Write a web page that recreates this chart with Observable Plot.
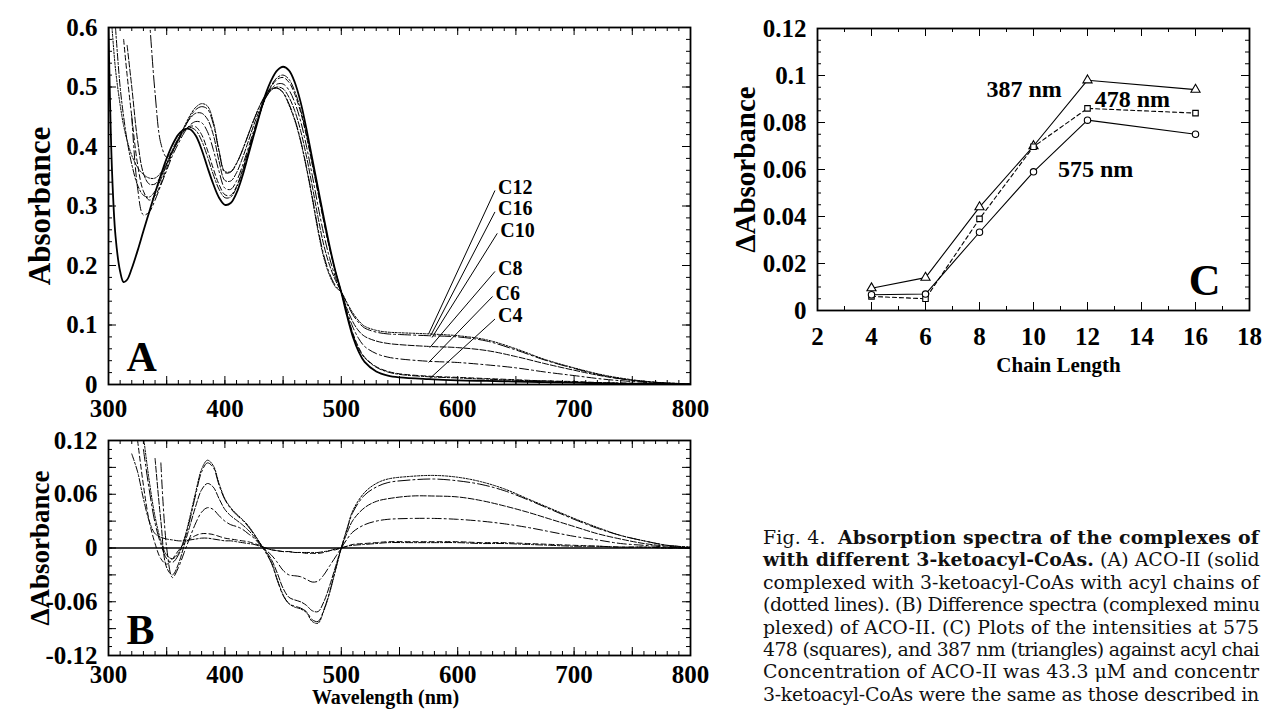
<!DOCTYPE html>
<html><head><meta charset="utf-8">
<script src="https://cdn.jsdelivr.net/npm/d3@7"></script>
<script src="https://cdn.jsdelivr.net/npm/@observablehq/plot@0.6"></script>
<style>
html,body{margin:0;padding:0;background:#fff;overflow:hidden}
#root{position:relative;width:1264px;height:710px;overflow:hidden;background:#fff}
.panel{position:absolute}
#caption{position:absolute;left:763px;top:526px;white-space:pre;font-family:"DejaVu Serif",serif;color:#111;line-height:22.4px}
#caption b{font-weight:bold}
</style></head>
<body><div id="root"><div id="caption"></div></div>
<script>
// ---------------- DATA ----------------
const seriesNames = ["C4","C6","C8","C10","C12","C16"];

// Panel A: absorbance spectra
const wavelengthA = [300,303,306,310,313,316,320,325,330,335,340,345,350,355,360,365,370,375,380,385,390,395,400,405,410,415,420,425,430,435,440,445,450,455,460,465,470,475,480,485,490,495,500,505,510,515,520,530,540,550,575,600,625,650,675,700,725,750,775,800];
const freeA = [0.60,0.36,0.25,0.19,0.172,0.176,0.195,0.225,0.258,0.29,0.322,0.352,0.38,0.403,0.42,0.429,0.429,0.418,0.395,0.365,0.337,0.314,0.302,0.305,0.322,0.35,0.385,0.42,0.455,0.488,0.512,0.528,0.534,0.528,0.508,0.475,0.43,0.38,0.33,0.28,0.232,0.19,0.155,0.115,0.08,0.055,0.038,0.022,0.015,0.012,0.009,0.007,0.006,0.005,0.004,0.003,0.002,0.001,0.001,0];
const c4A = [null,null,0.60,0.50,0.45,0.41,0.37,0.335,0.318,0.315,0.325,0.345,0.37,0.395,0.414,0.427,0.432,0.427,0.41,0.383,0.353,0.328,0.314,0.315,0.331,0.358,0.39,0.423,0.455,0.483,0.503,0.516,0.52,0.513,0.493,0.462,0.421,0.373,0.324,0.275,0.229,0.19,0.155,0.117,0.084,0.06,0.045,0.029,0.021,0.017,0.013,0.011,0.009,0.007,0.006,0.004,0.003,0.002,0.001,0];
const c6A = [null,null,null,null,0.58,0.52,0.45,0.37,0.325,0.31,0.317,0.338,0.364,0.39,0.41,0.426,0.434,0.433,0.42,0.394,0.363,0.336,0.319,0.318,0.333,0.36,0.392,0.424,0.455,0.482,0.501,0.513,0.516,0.508,0.488,0.458,0.418,0.37,0.322,0.273,0.228,0.189,0.155,0.118,0.086,0.062,0.046,0.03,0.022,0.018,0.014,0.012,0.01,0.008,0.006,0.005,0.003,0.002,0.001,0];
const c8A = [null,null,null,null,null,null,0.45,0.33,0.285,0.29,0.31,0.335,0.36,0.385,0.405,0.423,0.436,0.442,0.44,0.425,0.395,0.358,0.33,0.328,0.342,0.367,0.397,0.428,0.457,0.481,0.497,0.505,0.505,0.495,0.474,0.443,0.401,0.352,0.3,0.252,0.212,0.18,0.155,0.122,0.096,0.077,0.064,0.052,0.046,0.043,0.039,0.037,0.033,0.028,0.021,0.015,0.009,0.005,0.002,0];
const c10A = [null,null,null,null,null,0.57,0.5,0.41,0.355,0.337,0.337,0.35,0.37,0.392,0.413,0.432,0.447,0.456,0.456,0.446,0.42,0.375,0.343,0.342,0.356,0.38,0.408,0.437,0.462,0.482,0.495,0.5,0.497,0.483,0.46,0.427,0.384,0.334,0.281,0.234,0.2,0.175,0.155,0.127,0.105,0.09,0.081,0.073,0.069,0.067,0.064,0.062,0.057,0.047,0.035,0.024,0.014,0.007,0.003,0.001];
const c12A = [null,0.60,0.53,0.47,0.435,0.41,0.385,0.365,0.353,0.347,0.347,0.356,0.372,0.392,0.412,0.433,0.452,0.466,0.472,0.468,0.442,0.393,0.358,0.358,0.372,0.394,0.42,0.446,0.469,0.487,0.497,0.498,0.49,0.47,0.444,0.409,0.364,0.313,0.258,0.213,0.183,0.164,0.155,0.137,0.12,0.107,0.098,0.091,0.088,0.087,0.085,0.082,0.075,0.06,0.042,0.028,0.016,0.008,0.003,0.001];
const c16A = [null,null,null,null,null,null,null,null,null,0.62,0.49,0.405,0.382,0.393,0.41,0.43,0.449,0.462,0.467,0.463,0.438,0.391,0.356,0.357,0.371,0.393,0.419,0.445,0.468,0.486,0.496,0.498,0.491,0.472,0.446,0.411,0.366,0.316,0.262,0.217,0.186,0.166,0.155,0.135,0.117,0.104,0.095,0.088,0.085,0.084,0.082,0.08,0.073,0.058,0.041,0.027,0.015,0.007,0.003,0.001];

// Panel B: difference spectra
const wavelengthB = [320,325,330,335,340,345,350,355,360,365,370,375,380,385,390,395,400,405,410,415,420,425,430,435,440,445,450,455,460,465,470,475,480,485,490,495,500,505,510,520,530,540,560,580,600,620,640,660,680,700,720,740,760,780,800];
const c4B = [0.105,0.085,0.055,0.03,0.016,0.012,0.01,0.009,0.008,0.008,0.009,0.01,0.011,0.011,0.01,0.009,0.008,0.008,0.007,0.006,0.005,0.004,0.002,0,-0.002,-0.003,-0.004,-0.004,-0.005,-0.005,-0.005,-0.005,-0.005,-0.004,-0.003,-0.001,0,0.002,0.003,0.004,0.005,0.006,0.006,0.006,0.006,0.005,0.005,0.004,0.003,0.002,0.002,0.001,0.001,0,0];
const c6B = [null,0.12,0.07,0.03,0.005,-0.012,-0.018,-0.012,-0.003,0.005,0.01,0.014,0.016,0.016,0.015,0.013,0.011,0.01,0.009,0.008,0.007,0.005,0.003,0,-0.002,-0.003,-0.004,-0.004,-0.005,-0.005,-0.006,-0.006,-0.006,-0.005,-0.003,-0.002,0,0.002,0.004,0.005,0.006,0.007,0.007,0.007,0.007,0.006,0.006,0.005,0.004,0.003,0.002,0.001,0.001,0,0];
const c8B = [null,null,null,null,null,0.095,0.0,-0.033,-0.022,-0.005,0.012,0.028,0.04,0.045,0.043,0.036,0.03,0.026,0.024,0.021,0.016,0.011,0.004,-0.002,-0.008,-0.016,-0.025,-0.03,-0.031,-0.032,-0.035,-0.038,-0.037,-0.03,-0.02,-0.01,0,0.01,0.018,0.026,0.03,0.032,0.033,0.033,0.032,0.03,0.027,0.023,0.018,0.013,0.009,0.005,0.003,0.001,0];
const c10B = [null,null,null,null,0.10,0.03,-0.022,-0.03,-0.018,0.003,0.025,0.047,0.065,0.072,0.068,0.055,0.043,0.036,0.031,0.026,0.02,0.013,0.005,-0.003,-0.013,-0.028,-0.045,-0.055,-0.058,-0.06,-0.064,-0.07,-0.071,-0.06,-0.042,-0.021,0,0.017,0.031,0.045,0.052,0.055,0.058,0.058,0.057,0.053,0.047,0.04,0.032,0.024,0.016,0.01,0.005,0.002,0];
const c12B = [null,null,0.125,0.075,0.035,0.008,-0.008,-0.012,-0.006,0.01,0.035,0.063,0.088,0.098,0.092,0.072,0.055,0.045,0.038,0.032,0.025,0.016,0.006,-0.004,-0.016,-0.035,-0.052,-0.062,-0.066,-0.068,-0.072,-0.082,-0.084,-0.07,-0.05,-0.025,0,0.022,0.042,0.062,0.072,0.077,0.08,0.081,0.079,0.074,0.066,0.055,0.044,0.033,0.023,0.014,0.008,0.003,0.001];
const c16B = [null,null,0.11,0.065,0.028,0.004,-0.012,-0.016,-0.008,0.008,0.032,0.06,0.085,0.095,0.09,0.07,0.054,0.044,0.037,0.031,0.024,0.015,0.005,-0.005,-0.017,-0.036,-0.053,-0.062,-0.065,-0.067,-0.071,-0.08,-0.082,-0.069,-0.049,-0.024,0,0.021,0.04,0.059,0.068,0.073,0.076,0.077,0.075,0.071,0.064,0.054,0.043,0.032,0.022,0.014,0.008,0.003,0.001];

// Panel C: intensities vs chain length
const chainLength = [4,6,8,10,12,16];
const int387 = [0.0095,0.014,0.044,0.070,0.098,0.094];
const int478 = [0.006,0.005,0.039,0.0697,0.086,0.084];
const int575 = [0.0067,0.007,0.0333,0.059,0.081,0.075];

// Tick labels
const xTicksAB = [300,400,500,600,700,800];
const yTicksA = [0,0.1,0.2,0.3,0.4,0.5,0.6];
const yTicksB = [-0.12,-0.06,0,0.06,0.12];
const xTicksC = [2,4,6,8,10,12,14,16,18];
const yTicksC = [0,0.02,0.04,0.06,0.08,0.1,0.12];

// Curve labels in panel A (label, point on curve, label position)
const curveLabels = [
  {label:"C12", w1:575, a1:0.085, w2:632, a2:0.326},
  {label:"C16", w1:577, a1:0.083, w2:632, a2:0.290},
  {label:"C10", w1:578, a1:0.079, w2:634, a2:0.254},
  {label:"C8",  w1:576, a1:0.062, w2:632, a2:0.190},
  {label:"C6",  w1:575, a1:0.037, w2:630, a2:0.148},
  {label:"C4",  w1:576, a1:0.010, w2:632, a2:0.110}
];
const labelsC = [
  {text:"387 nm", x:9.65, y:0.094},
  {text:"478 nm", x:13.66, y:0.090},
  {text:"575 nm", x:12.3, y:0.060}
];

// Caption lines as visible in the (right-clipped) original
const captionLines = [
  [["Fig. 4.  ",false],["Absorption spectra of the complexes of",true]],
  [["with different 3-ketoacyl-CoAs.",true],[" (A) ACO-II (solid",false]],
  [["complexed with 3-ketoacyl-CoAs with acyl chains of",false]],
  [["(dotted lines). (B) Difference spectra (complexed minu",false]],
  [["plexed) of ACO-II. (C) Plots of the intensities at 575",false]],
  [["478 (squares), and 387 nm (triangles) against acyl chai",false]],
  [["Concentration of ACO-II was 43.3 μM and concentr",false]],
  [["3-ketoacyl-CoAs were the same as those described in",false]]
];

// ---------------- HELPERS ----------------
const FONT = "'Liberation Serif','Times New Roman',serif";
const dashes = {C4:"7,2,2,2", C6:"5,3", C8:"9,3,2,3", C10:"6,2", C12:"2,1.5", C16:"12,3,2,3"};

function longForm(grid, arr, name) {
  const out = [];
  grid.forEach((w, i) => { if (arr[i] !== null && arr[i] !== undefined) out.push({w, v: arr[i], s: name}); });
  return out;
}

function frameTicks(xd, yd, fw, fh, xMinor, xMajor, yMinor, yMajor, minorLen, majorLen) {
  const [x0, x1] = xd, [y0, y1] = yd;
  const kx = (x1 - x0) / fw, ky = (y1 - y0) / fh;
  const m = [];
  for (const [arr, len] of [[xMinor, minorLen], [xMajor, majorLen]]) {
    m.push(Plot.ruleX(arr, {x: d => d, y1: y0, y2: y0 + len * ky, stroke: "black", strokeWidth: 1}));
    m.push(Plot.ruleX(arr, {x: d => d, y1: y1, y2: y1 - len * ky, stroke: "black", strokeWidth: 1}));
  }
  for (const [arr, len] of [[yMinor, minorLen], [yMajor, majorLen]]) {
    m.push(Plot.ruleY(arr, {y: d => d, x1: x0, x2: x0 + len * kx, stroke: "black", strokeWidth: 1}));
    m.push(Plot.ruleY(arr, {y: d => d, x1: x1, x2: x1 - len * kx, stroke: "black", strokeWidth: 1}));
  }
  return m;
}
const fmt = d => String(+d.toFixed(3));
const root = document.getElementById("root");
function place(el, left, top) { el.classList.add("panel"); el.style.left = left + "px"; el.style.top = top + "px"; root.appendChild(el); }

const spectraA = [
  ...longForm(wavelengthA, c4A, "C4"), ...longForm(wavelengthA, c6A, "C6"), ...longForm(wavelengthA, c8A, "C8"),
  ...longForm(wavelengthA, c10A, "C10"), ...longForm(wavelengthA, c12A, "C12"), ...longForm(wavelengthA, c16A, "C16")
];
const freeData = longForm(wavelengthA, freeA, "free");
const spectraB = [
  ...longForm(wavelengthB, c4B, "C4"), ...longForm(wavelengthB, c6B, "C6"), ...longForm(wavelengthB, c8B, "C8"),
  ...longForm(wavelengthB, c10B, "C10"), ...longForm(wavelengthB, c12B, "C12"), ...longForm(wavelengthB, c16B, "C16")
];

function seriesLines(data) {
  return seriesNames.map(n => Plot.line(data.filter(d => d.s === n), {
    x: "w", y: "v", stroke: "black", strokeWidth: 1, strokeDasharray: dashes[n], curve: "catmull-rom", clip: true
  }));
}

const xMinorAB = d3.range(300, 801, 10), xMajorAB = d3.range(300, 801, 50);
const titleStyle = {textAnchor: "middle", lineAnchor: "middle", fontWeight: "bold"};

// ---------------- PANEL A ----------------
const plotA = Plot.plot({
  width: 720, height: 424, marginLeft: 108, marginRight: 30, marginTop: 27, marginBottom: 40,
  x: {domain: [300, 800]}, y: {domain: [0, 0.6]},
  style: {fontFamily: FONT, fontSize: "25px", fontWeight: "bold", background: "white", color: "black", overflow: "visible"},
  marks: [
    ...seriesLines(spectraA),
    Plot.line(freeData, {x: "w", y: "v", stroke: "black", strokeWidth: 1.8, curve: "catmull-rom", clip: true}),
    Plot.link(curveLabels, {x1: "w1", y1: "a1", x2: "w2", y2: "a2", stroke: "black", strokeWidth: 1}),
    Plot.text(curveLabels, {x: "w2", y: "a2", text: "label", textAnchor: "start", dx: 3, dy: -3, fontSize: 20, fontWeight: "bold"}),
    ...frameTicks([300, 800], [0, 0.6], 582, 357, xMinorAB, xMajorAB, d3.range(0, 0.601, 0.02), yTicksA, 4, 8),
    Plot.frame({stroke: "black", strokeWidth: 1.8}),
    Plot.axisX({ticks: xTicksAB, tickSize: 0, tickPadding: 15, tickFormat: fmt, label: null, fontSize: 25, fontWeight: "bold"}),
    Plot.axisY({ticks: yTicksA, tickSize: 0, tickPadding: 11, tickFormat: fmt, label: null, fontSize: 25, fontWeight: "bold"}),
    Plot.text(["Absorbance"], {text: d => d, frameAnchor: "left", dx: -68, rotate: -90, fontSize: 31, ...titleStyle}),
    Plot.text(["A"], {text: d => d, frameAnchor: "bottom-left", textAnchor: "start", lineAnchor: "bottom", dx: 18, dy: -14, fontSize: 42, fontWeight: "bold"})
  ]
});
place(plotA, 0, 0);

// ---------------- PANEL B ----------------
const plotB = Plot.plot({
  width: 720, height: 310, marginLeft: 108, marginRight: 30, marginTop: 40, marginBottom: 55,
  x: {domain: [300, 800]}, y: {domain: [-0.12, 0.12]},
  style: {fontFamily: FONT, fontSize: "25px", fontWeight: "bold", background: "transparent", color: "black", overflow: "visible"},
  marks: [
    Plot.ruleY([0], {stroke: "black", strokeWidth: 1.3}),
    ...seriesLines(spectraB),
    ...frameTicks([300, 800], [-0.12, 0.12], 582, 215, xMinorAB, xMajorAB, d3.range(-0.12, 0.1201, 0.01), d3.range(-0.12, 0.1201, 0.03), 4, 8),
    Plot.frame({stroke: "black", strokeWidth: 1.8}),
    Plot.axisX({ticks: xTicksAB, tickSize: 0, tickPadding: 10, tickFormat: fmt, label: null, fontSize: 25, fontWeight: "bold"}),
    Plot.axisY({ticks: yTicksB, tickSize: 0, tickPadding: 11, tickFormat: fmt, label: null, fontSize: 25, fontWeight: "bold"}),
    Plot.text(["ΔAbsorbance"], {text: d => d, frameAnchor: "left", dx: -68, rotate: -90, fontSize: 27, ...titleStyle}),
    Plot.text(["Wavelength (nm)"], {text: d => d, frameAnchor: "bottom", dx: -14, dy: 42, fontSize: 20, ...titleStyle}),
    Plot.text(["B"], {text: d => d, frameAnchor: "bottom-left", textAnchor: "start", lineAnchor: "bottom", dx: 18, dy: -12, fontSize: 42, fontWeight: "bold"})
  ]
});
place(plotB, 0, 400);

// ---------------- PANEL C ----------------
const dataC = [
  ...chainLength.map((c, i) => ({c, v: int387[i], s: "387"})),
  ...chainLength.map((c, i) => ({c, v: int478[i], s: "478"})),
  ...chainLength.map((c, i) => ({c, v: int575[i], s: "575"}))
];
const plotC = Plot.plot({
  width: 544, height: 380, marginLeft: 97, marginRight: 15, marginTop: 28, marginBottom: 70,
  x: {domain: [2, 18]}, y: {domain: [0, 0.12]},
  style: {fontFamily: FONT, fontSize: "25px", fontWeight: "bold", background: "transparent", color: "black", overflow: "visible"},
  marks: [
    Plot.line(dataC.filter(d => d.s === "387"), {x: "c", y: "v", stroke: "black", strokeWidth: 1.1}),
    Plot.line(dataC.filter(d => d.s === "478"), {x: "c", y: "v", stroke: "black", strokeWidth: 1.1, strokeDasharray: "4,3"}),
    Plot.line(dataC.filter(d => d.s === "575"), {x: "c", y: "v", stroke: "black", strokeWidth: 1.1}),
    Plot.dot(dataC.filter(d => d.s === "387"), {x: "c", y: "v", symbol: "triangle", r: 3.4, fill: "white", stroke: "black", strokeWidth: 1.1}),
    Plot.dot(dataC.filter(d => d.s === "478"), {x: "c", y: "v", symbol: "square", r: 3.1, fill: "white", stroke: "black", strokeWidth: 1.1}),
    Plot.dot(dataC.filter(d => d.s === "575"), {x: "c", y: "v", symbol: "circle", r: 3.2, fill: "white", stroke: "black", strokeWidth: 1.1}),
    Plot.text(labelsC, {x: "x", y: "y", text: "text", fontSize: 24, fontWeight: "bold"}),
    ...frameTicks([2, 18], [0, 0.12], 432, 282, d3.range(2, 18.01, 1), xTicksC, d3.range(0, 0.1201, 0.005), yTicksC, 4, 8),
    Plot.frame({stroke: "black", strokeWidth: 1.8}),
    Plot.axisX({ticks: xTicksC, tickSize: 0, tickPadding: 17, tickFormat: fmt, label: null, fontSize: 25, fontWeight: "bold"}),
    Plot.axisY({ticks: yTicksC, tickSize: 0, tickPadding: 11, tickFormat: fmt, label: null, fontSize: 25, fontWeight: "bold"}),
    Plot.text(["ΔAbsorbance"], {text: d => d, frameAnchor: "left", dx: -72, rotate: -90, fontSize: 29, ...titleStyle}),
    Plot.text(["Chain Length"], {text: d => d, frameAnchor: "bottom", dx: 25, dy: 55, fontSize: 21, ...titleStyle}),
    Plot.text(["C"], {text: d => d, frameAnchor: "bottom-right", textAnchor: "end", lineAnchor: "bottom", dx: -29, dy: -16, fontSize: 44, fontWeight: "bold"})
  ]
});
place(plotC, 720, 0);

// ---------------- CAPTION ----------------
const cap = document.getElementById("caption");
const ctx = document.createElement("canvas").getContext("2d");
const capFamily = "'DejaVu Serif'";
ctx.font = "15px " + capFamily;
const refW = ctx.measureText("complexed with 3-ketoacyl-CoAs with acyl chains of").width;
const capSize = 15 * 496 / refW;
cap.style.fontSize = capSize.toFixed(2) + "px";
const targetW = 496;
captionLines.forEach(line => {
  const div = document.createElement("div");
  let total = 0, chars = 0;
  line.forEach(([t, bold]) => {
    ctx.font = (bold ? "bold " : "") + capSize.toFixed(2) + "px " + capFamily;
    total += ctx.measureText(t).width;
    chars += t.length;
    const el = document.createElement(bold ? "b" : "span");
    el.textContent = t;
    div.appendChild(el);
  });
  const ls = Math.max(-1.2, Math.min(1.2, (targetW - total) / chars));
  div.style.letterSpacing = ls.toFixed(3) + "px";
  cap.appendChild(div);
});
root.appendChild(cap);
</script>
</body></html>
